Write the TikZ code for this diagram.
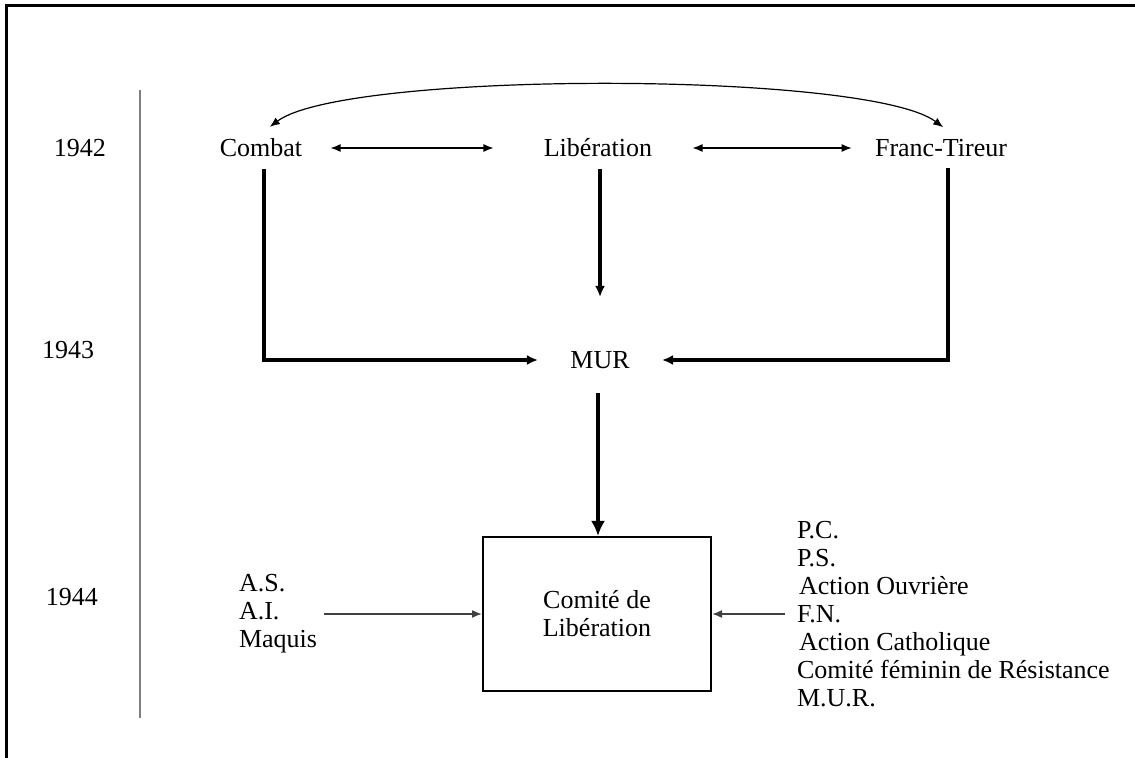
\documentclass[tikz,border=0pt]{standalone}
\usepackage{fontspec}
\setmainfont{Liberation Serif}
\usetikzlibrary{arrows.meta,positioning}

\begin{document}
\begin{tikzpicture}[x=0.5pt,y=-0.5pt,
  every node/.style={font=\fontsize{13}{14}\selectfont},
  org/.style={inner sep=4pt},
  flow/.style={line width=1.7pt,-{Latex[length=5.5pt,width=5pt]}},
  bigflow/.style={line width=2.2pt,-{Latex[length=7.5pt,width=7pt]}},
  link/.style={line width=0.6pt,{Latex[length=5pt,width=4pt]}-{Latex[length=5pt,width=4pt]}},
  feed/.style={line width=0.8pt,black!75,-{Latex[length=5pt,width=4pt]}}]
  \useasboundingbox (0,0) rectangle (1135,758);
  % frame and time axis
  \draw[line width=1.5pt] (1135,6) -- (6,6) -- (6,758);
  \draw[gray,line width=1pt] (140,90) -- (140,718);
  \node (y42) at (80,148) {1942};
  \node (y43) at (68,350) {1943};
  \node (y44) at (72,597) {1944};
  % movements
  \node[org] (combat) at (261,148) {Combat};
  \node[org] (lib) at (598,148) {Libération};
  \node[org] (franc) at (941,148) {Franc-Tireur};
  \node[org] (mur) at (600,360) {MUR};
  \node[draw,line width=1pt,minimum width=114pt,minimum height=77pt,align=center] (comite) at (597,614) {Comité de\\Libération};
  \node[align=left,anchor=west] (armed) at (232,614) {A.S.\\A.I.\\Maquis};
  \node[align=left,anchor=west] (groups) at (790,614) {P.C.\\P.S.\\\hspace{1pt}Action Ouvrière\\F.N.\\\hspace{1pt}Action Catholique\\Comité féminin de Résistance\\M.U.R.};
  % connectors
  \draw[link,shorten <=3pt,shorten >=3pt] ([xshift=2pt]combat.north) .. controls +(80,-60) and +(-80,-60) .. ([xshift=3.5pt]franc.north);
  \draw[link,shorten <=10pt,shorten >=21pt] (combat) -- (lib);
  \draw[link,shorten <=16pt,shorten >=7.5pt] (lib) -- (franc);
  \draw[flow,shorten <=1.5pt,shorten >=12pt] ([xshift=1.5pt]combat.south) |- (mur.west);
  \draw[flow,shorten <=1.5pt,shorten >=12pt] ([xshift=3.5pt]franc.south) |- (mur.east);
  \draw[flow,shorten <=1.5pt,shorten >=23pt] ([xshift=1pt]lib.south) -- ([xshift=1pt]lib.south |- mur.north);
  \draw[bigflow,shorten <=8pt] ([xshift=-1pt]mur.south) -- ([xshift=-1pt]mur.south |- comite.north);
  \draw[feed] (armed) -- (comite);
  \draw[feed,shorten <=2.5pt] (groups) -- (comite);
\end{tikzpicture}
\end{document}
